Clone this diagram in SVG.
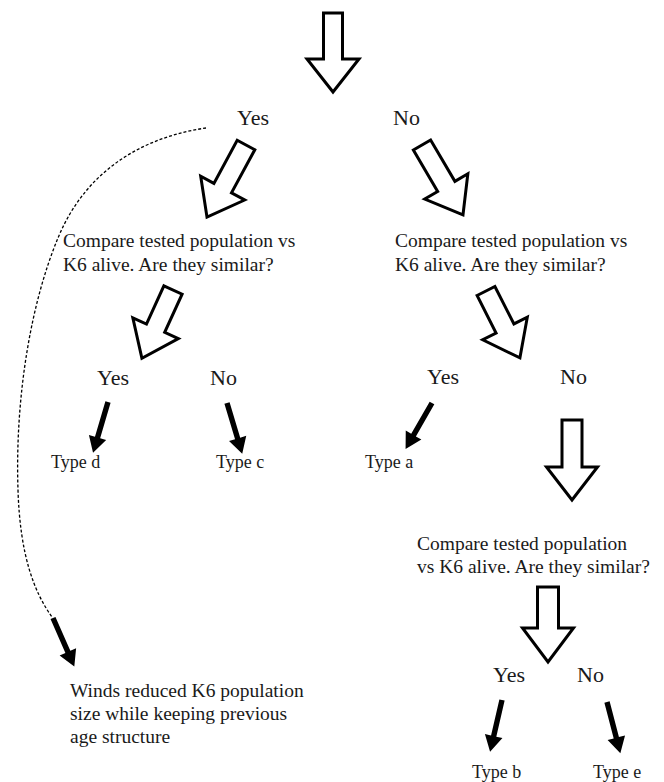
<svg xmlns="http://www.w3.org/2000/svg" width="664" height="782" viewBox="0 0 664 782">
<style>
text{font-family:"Liberation Serif","Times New Roman",serif;fill:#1a1a1a}
.yn{font-size:22px}
.q{font-size:19.5px}
.t{font-size:18px}
.hollow{fill:#fff;stroke:#000;stroke-width:3;stroke-linejoin:miter}
.solid{fill:#000}
.dash{fill:none;stroke:#000;stroke-width:1.3;stroke-dasharray:3 2}
</style>
<defs>
<polygon id="sa" points="-2.7,0 2.7,0 2.7,37 9,37 0,53 -9,37 -2.7,37"/>
</defs>
<g id="connectors">
  <path class="dash" d="M206,128 C150,136 88,165 58,238 C30,305 15,400 18,490 C20,555 34,592 52,617"/>
  <polygon class="hollow" points="323.5,13 342.5,13 342.5,59 359,59 333,92 307,59 323.5,59"/>
  <polygon class="hollow" transform="translate(246,145) rotate(28.4)" points="-10,0 10,0 10,49 25,49 0,82 -25,49 -10,49"/>
  <polygon class="hollow" transform="translate(422,145) rotate(-30.4)" points="-10,0 10,0 10,48 25,48 0,81 -25,48 -10,48"/>
  <polygon class="hollow" transform="translate(173,290) rotate(24.5)" points="-10,0 10,0 10,42 25,42 0,75 -25,42 -10,42"/>
  <polygon class="hollow" transform="translate(486,291) rotate(-26.9)" points="-10,0 10,0 10,42 25,42 0,75 -25,42 -10,42"/>
  <polygon class="hollow" points="562,420 582,420 582,467 597.5,467 572,500 546.5,467 562,467"/>
  <polygon class="hollow" points="537.5,587 558.5,587 558.5,628 573.5,628 548,662 522.5,628 537.5,628"/>
  <use href="#sa" class="solid" transform="translate(108,402) rotate(16.4)"/>
  <use href="#sa" class="solid" transform="translate(227,403) rotate(-16.7)"/>
  <use href="#sa" class="solid" transform="translate(432,403) rotate(29.9)"/>
  <use href="#sa" class="solid" transform="translate(502,700) rotate(13)"/>
  <use href="#sa" class="solid" transform="translate(607,702) rotate(-14.6)"/>
  <use href="#sa" class="solid" transform="translate(53,618) rotate(-23.7)"/>
</g>
<g id="yes1"><text class="yn" x="237" y="125">Yes</text></g>
<g id="no1"><text class="yn" x="393" y="125">No</text></g>
<g id="q-left"><text class="q" x="63" y="247">Compare tested population vs</text><text class="q" x="63" y="271">K6 alive. Are they similar?</text></g>
<g id="q-right"><text class="q" x="395" y="247">Compare tested population vs</text><text class="q" x="395" y="271">K6 alive. Are they similar?</text></g>
<g id="yes2"><text class="yn" x="97" y="385">Yes</text></g>
<g id="no2"><text class="yn" x="210" y="385">No</text></g>
<g id="yes3"><text class="yn" x="427" y="384">Yes</text></g>
<g id="no3"><text class="yn" x="560" y="384">No</text></g>
<g id="type-d"><text class="t" x="51" y="468">Type d</text></g>
<g id="type-c"><text class="t" x="216" y="468">Type c</text></g>
<g id="type-a"><text class="t" x="365" y="468">Type a</text></g>
<g id="q-third"><text class="q" x="417" y="550">Compare tested population</text><text class="q" x="417" y="573">vs K6 alive. Are they similar?</text></g>
<g id="yes4"><text class="yn" x="493" y="682">Yes</text></g>
<g id="no4"><text class="yn" x="577" y="682">No</text></g>
<g id="type-b"><text class="t" x="472" y="778">Type b</text></g>
<g id="type-e"><text class="t" x="593" y="778">Type e</text></g>
<g id="winds"><text class="q" x="70" y="697">Winds reduced K6 population</text><text class="q" x="70" y="720">size while keeping previous</text><text class="q" x="70" y="743">age structure</text></g>
</svg>
